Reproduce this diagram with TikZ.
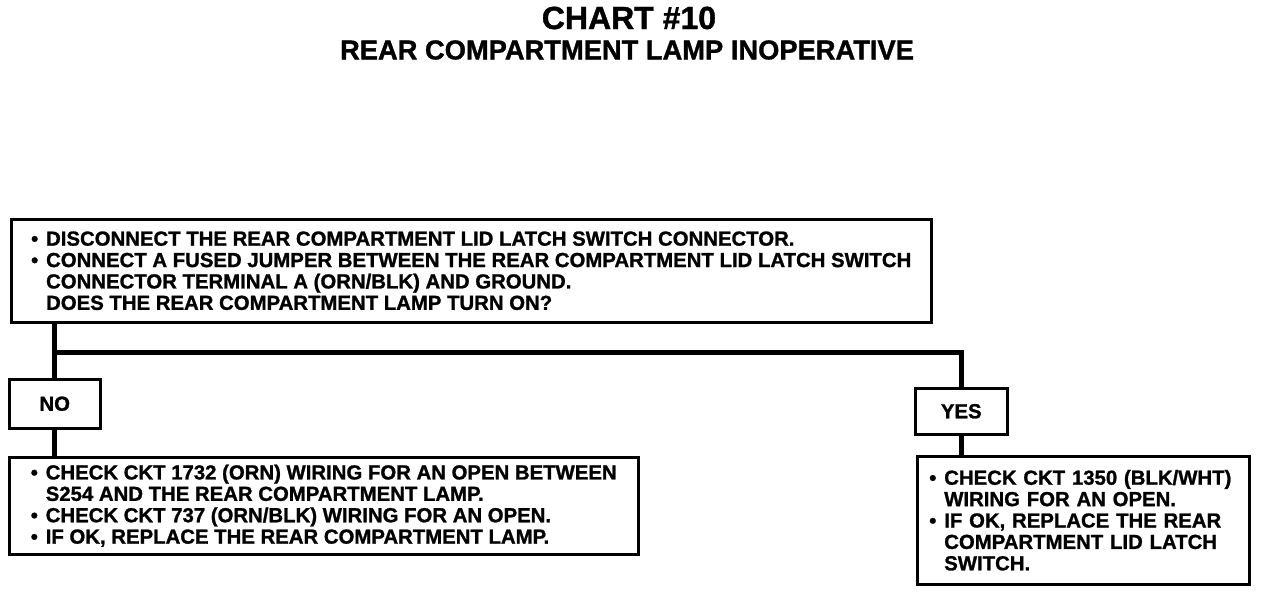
\documentclass[tikz,border=0pt]{standalone}
\usepackage{fontspec}
\setmainfont[BoldFeatures={FakeBold=1.2}]{Liberation Sans}
\usepackage{tikz}
\newcommand{\bul}{\makebox[15pt][l]{\textbullet}}
\newcommand{\hang}{\hspace*{15pt}}

\begin{document}
\begin{tikzpicture}[x=1pt,y=-1pt,
    box/.style={draw,line width=2.5pt,anchor=north west,inner sep=0pt,align=left,
      font=\bfseries\fontsize{20.35}{21.4}\selectfont},
    wire/.style={line width=5pt}]
    \useasboundingbox (0,0) rectangle (1264,594);
    \node[font=\bfseries\fontsize{32}{34}\selectfont] (title) at (629,18) {CHART \#10};
    \node[font=\bfseries\fontsize{27.3}{30}\selectfont] (sub) at (627,50) {REAR COMPARTMENT LAMP INOPERATIVE};

    \node[box,minimum width=920pt,minimum height=103pt] (q1) at (10,218) {%
        \bul DISCONNECT THE REAR COMPARTMENT LID LATCH SWITCH CONNECTOR.\\
        \bul CONNECT A FUSED JUMPER BETWEEN THE REAR COMPARTMENT LID LATCH SWITCH\\
        \hang CONNECTOR TERMINAL A (ORN/BLK) AND GROUND.\\
        \hang DOES THE REAR COMPARTMENT LAMP TURN ON?};
    \node[box,align=center,minimum width=91pt,minimum height=49pt] (no) at (8,378) {NO};
    \node[box,align=center,minimum width=92pt,minimum height=46pt] (yes) at (914,387) {YES};
    \node[box,minimum width=629pt,minimum height=97pt] (chkno) at (8,456) {%
        \bul CHECK CKT 1732 (ORN) WIRING FOR AN OPEN BETWEEN\\
        \hang S254 AND THE REAR COMPARTMENT LAMP.\\
        \bul CHECK CKT 737 (ORN/BLK) WIRING FOR AN OPEN.\\
        \bul IF OK, REPLACE THE REAR COMPARTMENT LAMP.};
    \node[box,text width=308pt,minimum width=332pt,minimum height=128pt] (chkyes) at (916,455) {%
        \bul CHECK CKT 1350 (BLK/WHT)\\
        \hang WIRING FOR AN OPEN.\\
        \bul IF OK, REPLACE THE REAR\\
        \hang COMPARTMENT LID LATCH\\
        \hang SWITCH.};

    \coordinate (fork) at (no.north |- 0,352);
    \draw[wire] (no.north |- q1.south) -- (no.north);
    \draw[wire] (fork) -| (yes.north);
    \draw[wire] (no.south) -- (no.south |- chkno.north);
    \draw[wire] (yes.south) -- (yes.south |- chkyes.north);
\end{tikzpicture}
\end{document}
